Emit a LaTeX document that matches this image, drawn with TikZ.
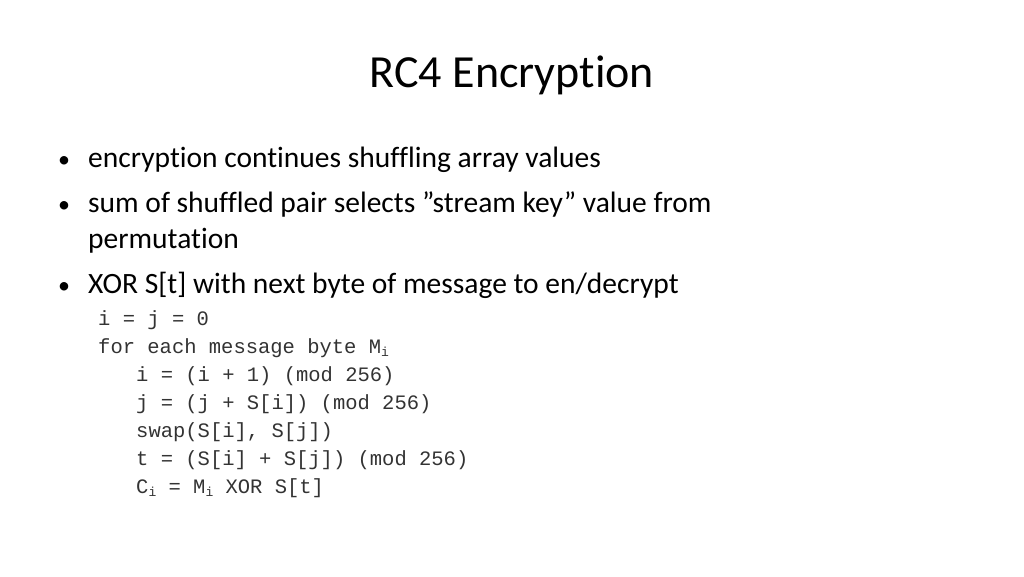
\documentclass[tikz,border=0pt]{standalone}
\usepackage{fontspec}
\setmainfont{Carlito}[Ligatures={NoCommon}]
\setmonofont{Liberation Mono}
\usetikzlibrary{positioning}
\newcommand{\sub}[1]{\raisebox{-0.35ex}{\fontsize{13}{13}\selectfont #1}}
\begin{document}
\begin{tikzpicture}[
    x=1pt, y=-1pt,
    title/.style={anchor=base, inner sep=0pt, font=\fontsize{46}{54}\selectfont},
    bullet/.style={anchor=base west, inner sep=0pt, font=\fontsize{29.5}{34}\selectfont},
    dot/.style={anchor=base west, inner sep=0pt, font=\fontsize{24}{34}\selectfont},
    code/.style={anchor=base west, inner sep=0pt, font=\ttfamily\fontsize{20.5}{24}\selectfont, color=black!80}
]
    \useasboundingbox (0,0) rectangle (1024,576);
    % Title
    \node[title] (head) at (512,87) {RC4 Encryption};
    % Bullets
    \node[dot] (d1) at (58,167) {•};
    \node[bullet] (b1) at (88,167) {encryption continues shuffling array values};
    \node[dot] (d2) at (58,212) {•};
    \node[bullet] (b2) at (88,212) {sum of shuffled pair selects \symbol{34}stream key\symbol{34} value from};
    \node[bullet] (b2b) at (88,248) {permutation};
    \node[dot] (d3) at (58,293) {•};
    \node[bullet] (b3) at (88,293) {XOR S[t] with next byte of message to en/decrypt};
    % Pseudocode
    \node[code] (c1) at (98,325) {i = j = 0};
    \node[code] (c2) at (98,353) {for each message byte M\sub{i}};
    \node[code] (c3) at (136,381) {i = (i + 1) (mod 256)};
    \node[code] (c4) at (136,409) {j = (j + S[i]) (mod 256)};
    \node[code] (c5) at (136,437) {swap(S[i], S[j])};
    \node[code] (c6) at (136,465) {t = (S[i] + S[j]) (mod 256)};
    \node[code] (c7) at (136,493) {C\sub{i} = M\sub{i} XOR S[t]};
\end{tikzpicture}
\end{document}
